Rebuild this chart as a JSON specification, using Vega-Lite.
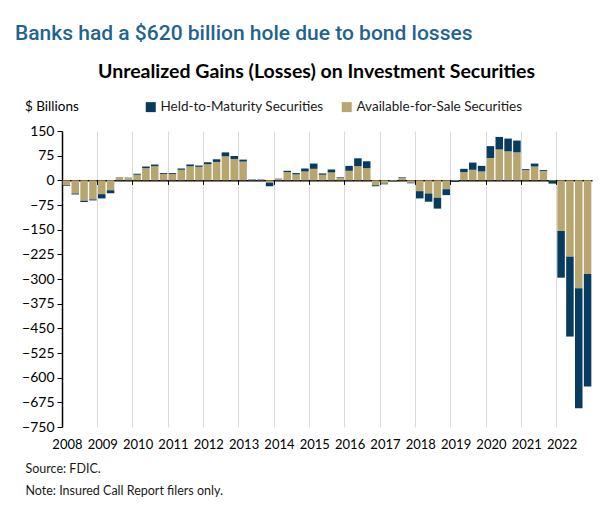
{
  "$schema": "https://vega.github.io/schema/vega-lite/v6.json",
  "width": 530,
  "height": 296,
  "autosize": {"type": "none"},
  "padding": {"left": 62, "top": 131, "right": 8, "bottom": 94},
  "background": "white",
  "config": {"font": "Lato", "view": {"stroke": null}},
  "title": {
    "text": "Banks had a $620 billion hole due to bond losses",
    "anchor": "start",
    "frame": "group",
    "dx": -47,
    "offset": 17,
    "font": "Roboto",
    "fontSize": 21,
    "fontWeight": 500,
    "color": "#1f6391"
  },
  "datasets": {
    "banks": [
      {"q": "2008Q1", "Available-for-Sale Securities": -15, "Held-to-Maturity Securities": -2},
      {"q": "2008Q2", "Available-for-Sale Securities": -40, "Held-to-Maturity Securities": -3},
      {"q": "2008Q3", "Available-for-Sale Securities": -62, "Held-to-Maturity Securities": -4},
      {"q": "2008Q4", "Available-for-Sale Securities": -58, "Held-to-Maturity Securities": -3},
      {"q": "2009Q1", "Available-for-Sale Securities": -42, "Held-to-Maturity Securities": -13},
      {"q": "2009Q2", "Available-for-Sale Securities": -30, "Held-to-Maturity Securities": -9},
      {"q": "2009Q3", "Available-for-Sale Securities": 10, "Held-to-Maturity Securities": -2},
      {"q": "2009Q4", "Available-for-Sale Securities": 7, "Held-to-Maturity Securities": 1},
      {"q": "2010Q1", "Available-for-Sale Securities": 17, "Held-to-Maturity Securities": 3},
      {"q": "2010Q2", "Available-for-Sale Securities": 37, "Held-to-Maturity Securities": 5},
      {"q": "2010Q3", "Available-for-Sale Securities": 43, "Held-to-Maturity Securities": 5},
      {"q": "2010Q4", "Available-for-Sale Securities": 19, "Held-to-Maturity Securities": 3},
      {"q": "2011Q1", "Available-for-Sale Securities": 19, "Held-to-Maturity Securities": 3},
      {"q": "2011Q2", "Available-for-Sale Securities": 32, "Held-to-Maturity Securities": 4},
      {"q": "2011Q3", "Available-for-Sale Securities": 43, "Held-to-Maturity Securities": 5},
      {"q": "2011Q4", "Available-for-Sale Securities": 41, "Held-to-Maturity Securities": 4},
      {"q": "2012Q1", "Available-for-Sale Securities": 49, "Held-to-Maturity Securities": 6},
      {"q": "2012Q2", "Available-for-Sale Securities": 56, "Held-to-Maturity Securities": 8},
      {"q": "2012Q3", "Available-for-Sale Securities": 73, "Held-to-Maturity Securities": 12},
      {"q": "2012Q4", "Available-for-Sale Securities": 65, "Held-to-Maturity Securities": 9},
      {"q": "2013Q1", "Available-for-Sale Securities": 57, "Held-to-Maturity Securities": 6},
      {"q": "2013Q2", "Available-for-Sale Securities": 2, "Held-to-Maturity Securities": 1},
      {"q": "2013Q3", "Available-for-Sale Securities": 2, "Held-to-Maturity Securities": 1},
      {"q": "2013Q4", "Available-for-Sale Securities": -7, "Held-to-Maturity Securities": -11},
      {"q": "2014Q1", "Available-for-Sale Securities": 4, "Held-to-Maturity Securities": 1},
      {"q": "2014Q2", "Available-for-Sale Securities": 25, "Held-to-Maturity Securities": 4},
      {"q": "2014Q3", "Available-for-Sale Securities": 18, "Held-to-Maturity Securities": 4},
      {"q": "2014Q4", "Available-for-Sale Securities": 27, "Held-to-Maturity Securities": 9},
      {"q": "2015Q1", "Available-for-Sale Securities": 35, "Held-to-Maturity Securities": 16},
      {"q": "2015Q2", "Available-for-Sale Securities": 17, "Held-to-Maturity Securities": 4},
      {"q": "2015Q3", "Available-for-Sale Securities": 24, "Held-to-Maturity Securities": 9},
      {"q": "2015Q4", "Available-for-Sale Securities": 7, "Held-to-Maturity Securities": 2},
      {"q": "2016Q1", "Available-for-Sale Securities": 29, "Held-to-Maturity Securities": 15},
      {"q": "2016Q2", "Available-for-Sale Securities": 43, "Held-to-Maturity Securities": 24},
      {"q": "2016Q3", "Available-for-Sale Securities": 37, "Held-to-Maturity Securities": 21},
      {"q": "2016Q4", "Available-for-Sale Securities": -15, "Held-to-Maturity Securities": -3},
      {"q": "2017Q1", "Available-for-Sale Securities": -10, "Held-to-Maturity Securities": -2},
      {"q": "2017Q2", "Available-for-Sale Securities": -2, "Held-to-Maturity Securities": -1},
      {"q": "2017Q3", "Available-for-Sale Securities": 7, "Held-to-Maturity Securities": 2},
      {"q": "2017Q4", "Available-for-Sale Securities": -7, "Held-to-Maturity Securities": -2},
      {"q": "2018Q1", "Available-for-Sale Securities": -33, "Held-to-Maturity Securities": -22},
      {"q": "2018Q2", "Available-for-Sale Securities": -40, "Held-to-Maturity Securities": -25},
      {"q": "2018Q3", "Available-for-Sale Securities": -53, "Held-to-Maturity Securities": -33},
      {"q": "2018Q4", "Available-for-Sale Securities": -27, "Held-to-Maturity Securities": -18},
      {"q": "2019Q1", "Available-for-Sale Securities": -2, "Held-to-Maturity Securities": -3},
      {"q": "2019Q2", "Available-for-Sale Securities": 25, "Held-to-Maturity Securities": 10},
      {"q": "2019Q3", "Available-for-Sale Securities": 32, "Held-to-Maturity Securities": 22},
      {"q": "2019Q4", "Available-for-Sale Securities": 27, "Held-to-Maturity Securities": 17},
      {"q": "2020Q1", "Available-for-Sale Securities": 68, "Held-to-Maturity Securities": 36},
      {"q": "2020Q2", "Available-for-Sale Securities": 94, "Held-to-Maturity Securities": 38},
      {"q": "2020Q3", "Available-for-Sale Securities": 88, "Held-to-Maturity Securities": 39},
      {"q": "2020Q4", "Available-for-Sale Securities": 85, "Held-to-Maturity Securities": 36},
      {"q": "2021Q1", "Available-for-Sale Securities": 31, "Held-to-Maturity Securities": 3},
      {"q": "2021Q2", "Available-for-Sale Securities": 42, "Held-to-Maturity Securities": 9},
      {"q": "2021Q3", "Available-for-Sale Securities": 28, "Held-to-Maturity Securities": 3},
      {"q": "2021Q4", "Available-for-Sale Securities": -2, "Held-to-Maturity Securities": -8},
      {"q": "2022Q1", "Available-for-Sale Securities": -154, "Held-to-Maturity Securities": -142},
      {"q": "2022Q2", "Available-for-Sale Securities": -232, "Held-to-Maturity Securities": -243},
      {"q": "2022Q3", "Available-for-Sale Securities": -328, "Held-to-Maturity Securities": -365},
      {"q": "2022Q4", "Available-for-Sale Securities": -285, "Held-to-Maturity Securities": -342}
    ]
  },
  "data": {"name": "banks"},
  "transform": [
    {"fold": ["Available-for-Sale Securities", "Held-to-Maturity Securities"], "as": ["series", "value"]}
  ],
  "mark": {"type": "bar"},
  "encoding": {
    "x": {
      "field": "q",
      "type": "ordinal",
      "sort": null,
      "scale": {"paddingInner": 0.15, "paddingOuter": 0.075},
      "axis": {
        "values": ["2008Q1", "2009Q1", "2010Q1", "2011Q1", "2012Q1", "2013Q1", "2014Q1", "2015Q1", "2016Q1", "2017Q1", "2018Q1", "2019Q1", "2020Q1", "2021Q1", "2022Q1"],
        "bandPosition": -0.088,
        "offset": -246.67,
        "domain": true,
        "domainColor": "#000000",
        "domainWidth": 1.5,
        "ticks": true,
        "tickColor": "#000000",
        "tickSize": 4,
        "tickWidth": 1,
        "grid": true,
        "gridColor": "#dadada",
        "gridWidth": 1,
        "labelExpr": "slice(datum.value, 0, 4)",
        "labelAngle": 0,
        "labelPadding": 254,
        "labelOffset": 1,
        "labelFontSize": 13,
        "labelColor": "#000000",
        "labelOverlap": false,
        "title": ["Source: FDIC.", "Note: Insured Call Report filers only."],
        "titleX": -37,
        "titleY": 292,
        "titleAlign": "left",
        "titleAnchor": "start",
        "titleBaseline": "alphabetic",
        "titleLineHeight": 22,
        "titleFontSize": 12.5,
        "titleFontWeight": "normal",
        "titleColor": "#1a1a1a"
      }
    },
    "y": {
      "field": "value",
      "type": "quantitative",
      "stack": "zero",
      "scale": {"domain": [-750, 150], "nice": false},
      "axis": {
        "values": [150, 75, 0, -75, -150, -225, -300, -375, -450, -525, -600, -675, -750],
        "grid": false,
        "domainColor": "#000000",
        "domainWidth": 1.5,
        "tickColor": "#000000",
        "tickSize": 5,
        "labelFontSize": 14,
        "labelColor": "#000000",
        "labelPadding": 3,
        "title": "Unrealized Gains (Losses) on Investment Securities",
        "titleAngle": 0,
        "titleX": 254,
        "titleY": -54,
        "titleAlign": "center",
        "titleBaseline": "alphabetic",
        "titleFontSize": 19.5,
        "titleFontWeight": "bold",
        "titleColor": "#000000"
      }
    },
    "color": {
      "field": "series",
      "type": "nominal",
      "scale": {
        "domain": ["Held-to-Maturity Securities", "Available-for-Sale Securities"],
        "range": ["#073b5f", "#b7a66f"]
      },
      "legend": {
        "orient": "none",
        "legendX": -37,
        "legendY": -31,
        "direction": "horizontal",
        "title": "$ Billions",
        "titleOrient": "left",
        "titleFontSize": 13.5,
        "titleFontWeight": "normal",
        "titleColor": "#000000",
        "titlePadding": 65,
        "symbolType": "square",
        "symbolSize": 100,
        "symbolStrokeWidth": 0,
        "labelFontSize": 13.5,
        "labelLimit": 0,
        "labelColor": "#1a1a1a",
        "labelOffset": 3,
        "columnPadding": 16
      }
    },
    "order": {"field": "series", "sort": "ascending"}
  }
}
